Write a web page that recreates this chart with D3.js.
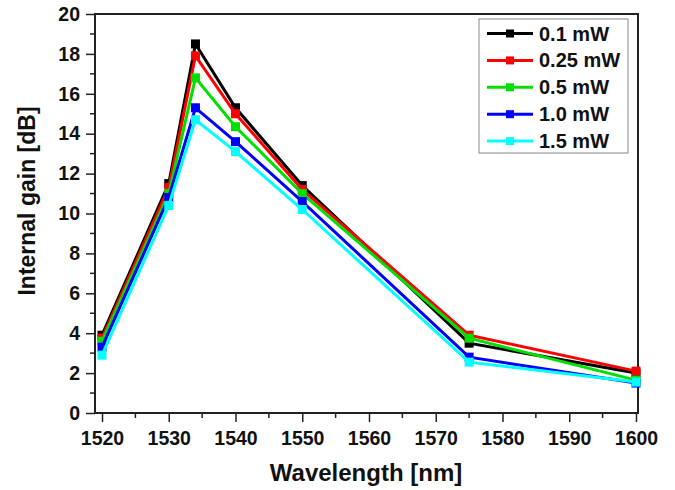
<!DOCTYPE html>
<html>
<head>
<meta charset="utf-8">
<script src="https://cdn.jsdelivr.net/npm/d3@7"></script>
<style>
  body { margin: 0; background: #fff; }
  svg { display: block; font-family: Arial, "Liberation Sans", sans-serif; }
</style>
</head>
<body>
<svg id="chart" width="675" height="490"></svg>
<script>
const wavelengths = [1520, 1530, 1534, 1540, 1550, 1575, 1600];
const seriesNames = ['0.1 mW', '0.25 mW', '0.5 mW', '1.0 mW', '1.5 mW'];
const seriesColors = ['#000000', '#ff0000', '#00e000', '#0000ff', '#00ffff'];
const gain01 = [3.9, 11.5, 18.5, 15.3, 11.4, 3.5, 2.0];
const gain025 = [3.75, 11.3, 17.9, 15.0, 11.2, 3.9, 2.1];
const gain05 = [3.6, 11.0, 16.8, 14.35, 11.0, 3.75, 1.65];
const gain10 = [3.3, 10.8, 15.3, 13.6, 10.6, 2.8, 1.5];
const gain15 = [2.9, 10.4, 14.7, 13.1, 10.2, 2.55, 1.55];
const seriesValues = [gain01, gain025, gain05, gain10, gain15];
const xTicks = [1520, 1530, 1540, 1550, 1560, 1570, 1580, 1590, 1600];
const yTicks = [0, 2, 4, 6, 8, 10, 12, 14, 16, 18, 20];

const svg = d3.select('#chart');
const plot = { left: 95, right: 638, top: 14, bottom: 413 };

const x = d3.scaleLinear().domain([1518.95, 1600.3]).range([plot.left, plot.right]);
const y = d3.scaleLinear().domain([0, 20]).range([plot.bottom, plot.top]);

// frame
svg.append('rect')
    .attr('x', plot.left).attr('y', plot.top)
    .attr('width', plot.right - plot.left).attr('height', plot.bottom - plot.top)
    .attr('fill', 'none').attr('stroke', '#222').attr('stroke-width', 2);

// minor ticks
const xMinor = d3.range(1525, 1600, 10);
svg.append('g').selectAll('line').data(xMinor).join('line')
    .attr('x1', d => x(d)).attr('x2', d => x(d))
    .attr('y1', plot.bottom).attr('y2', plot.bottom + 5)
    .attr('stroke', '#222').attr('stroke-width', 1.5);
const yMinor = d3.range(1, 20, 2);
svg.append('g').selectAll('line').data(yMinor).join('line')
    .attr('x1', plot.left - 5).attr('x2', plot.left)
    .attr('y1', d => y(d)).attr('y2', d => y(d))
    .attr('stroke', '#222').attr('stroke-width', 1.5);

// axes
const xAxis = svg.append('g')
    .attr('transform', `translate(0,${plot.bottom})`)
    .call(d3.axisBottom(x).tickValues(xTicks).tickFormat(d3.format('d')).tickSize(9).tickPadding(9));
const yAxis = svg.append('g')
    .attr('transform', `translate(${plot.left},0)`)
    .call(d3.axisLeft(y).tickValues(yTicks).tickSize(9).tickPadding(6));

[xAxis, yAxis].forEach(a => {
    a.select('.domain').remove();
    a.selectAll('line').attr('stroke', '#222').attr('stroke-width', 1.5);
    a.selectAll('text')
        .attr('font-size', 19.5).attr('font-weight', 'bold').attr('fill', '#111')
        .attr('font-family', 'Arial, "Liberation Sans", sans-serif');
});

// axis titles
svg.append('text')
    .attr('x', 366).attr('y', 481)
    .attr('text-anchor', 'middle')
    .attr('font-size', 24).attr('font-weight', 'bold').attr('fill', '#111')
    .text('Wavelength [nm]');
svg.append('text')
    .attr('transform', 'translate(35,201) rotate(-90)')
    .attr('text-anchor', 'middle')
    .attr('font-size', 23).attr('font-weight', 'bold').attr('fill', '#111')
    .text('Internal gain [dB]');

// lines
const line = d3.line().x((d, i) => x(wavelengths[i])).y(d => y(d));
seriesValues.forEach((vals, s) => {
    const g = svg.append('g');
    g.append('path')
        .attr('d', line(vals))
        .attr('fill', 'none')
        .attr('stroke', seriesColors[s])
        .attr('stroke-width', 3);
    g.selectAll('rect').data(vals).join('rect')
        .attr('x', (d, i) => x(wavelengths[i]) - 4.5)
        .attr('y', d => y(d) - 4.5)
        .attr('width', 9).attr('height', 9)
        .attr('fill', seriesColors[s]);
});

// legend
const legend = svg.append('g');
legend.append('rect')
    .attr('x', 479).attr('y', 19).attr('width', 149).attr('height', 134)
    .attr('fill', '#fff').attr('stroke', '#888').attr('stroke-width', 1);
seriesNames.forEach((name, s) => {
    const ly = 33.5 + s * 26.9;
    legend.append('line')
        .attr('x1', 487).attr('x2', 533).attr('y1', ly).attr('y2', ly)
        .attr('stroke', seriesColors[s]).attr('stroke-width', 3);
    legend.append('rect')
        .attr('x', 506).attr('y', ly - 4).attr('width', 8).attr('height', 8)
        .attr('fill', seriesColors[s]);
    legend.append('text')
        .attr('x', 539).attr('y', ly + 7)
        .attr('font-size', 20).attr('font-weight', 'bold').attr('fill', '#111')
        .text(name);
});
</script>
</body>
</html>
